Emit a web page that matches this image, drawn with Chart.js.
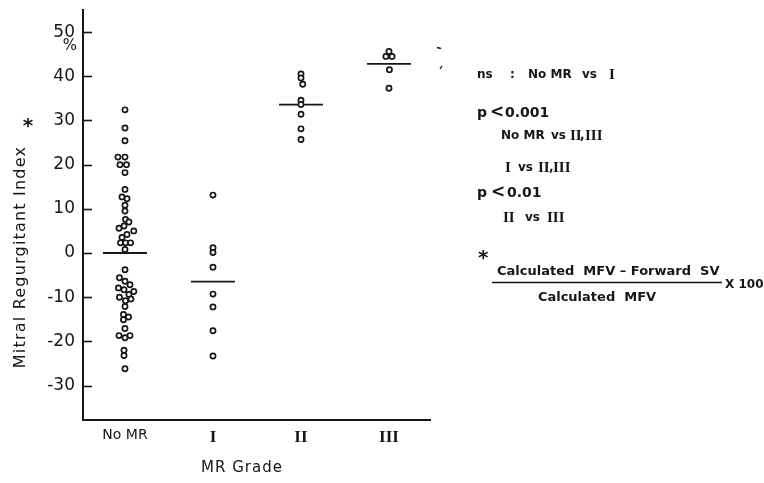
<!DOCTYPE html>
<html><head><meta charset="utf-8">
<script src="https://cdn.jsdelivr.net/npm/chart.js@4.4.0/dist/chart.umd.min.js"></script>
<style>html,body{margin:0;padding:0;background:#fff;}</style>
</head><body>
<canvas id="c" width="764" height="483" style="width:764px;height:483px;display:block"></canvas>
<script>
// ---------------- data ----------------
const categories = ["No MR", "I", "II", "III"];
const yTickValues = [-30, -20, -10, 0, 10, 20, 30, 40, 50];
const noMrValues = [32.4, 28.3, 25.4, 21.7, 21.7, 20.0, 20.0, 18.2, 14.4, 12.7, 12.3, 10.8, 9.5, 7.6, 7.0, 6.1, 5.6, 5.0, 4.2, 3.5, 2.3, 2.3, 2.3, 0.8,
  -3.8, -5.6, -6.4, -7.2, -7.9, -8.3, -8.7, -9.4, -10.0, -10.4, -10.8, -12.1, -13.9, -14.5, -15.1, -17.1, -18.7, -19.2, -18.7, -22.0, -23.2, -26.2];
// horizontal spread of each dot within its column (fraction of column spacing)
const noMrSpread = [0, 0, 0, -0.08, 0, -0.057, 0.017, 0, 0, -0.034, 0.023, 0, 0, 0.006, 0.045, -0.011, -0.068, 0.1, 0.023, -0.034, -0.051, 0.006, 0.063, 0,
  0, -0.063, 0, 0.057, -0.074, -0.011, 0.1, 0.045, -0.063, 0.068, 0.006, 0, -0.017, 0.04, -0.017, 0, -0.068, 0, 0.057, -0.011, -0.011, 0];
const grade1Values = [13.1, 1.2, 0.1, -3.2, -9.3, -12.2, -17.6, -23.3];
const grade1Spread = [0, 0, 0, 0, 0, 0, 0, 0];
const grade2Values = [40.5, 39.6, 38.2, 34.6, 33.6, 31.4, 28.1, 25.7];
const grade2Spread = [0, 0, 0.02, 0, 0, 0, 0, 0];
const grade3Values = [45.6, 44.5, 44.5, 41.5, 37.3];
const grade3Spread = [0, -0.035, 0.035, 0.005, 0];
const groupMeans = [0, -6.5, 33.6, 42.8];

// ---------------- build ----------------
const groups = [[noMrValues, noMrSpread], [grade1Values, grade1Spread], [grade2Values, grade2Spread], [grade3Values, grade3Spread]];
const pts = [];
groups.forEach(([vals, spr], gi) => vals.forEach((v, i) => pts.push({x: gi + spr[i], y: v})));

const INK = '#161616';
const datasets = [{
  type: 'scatter', data: pts, pointRadius: 2.6, pointHoverRadius: 2.6, pointBorderWidth: 1.7,
  pointBackgroundColor: '#fff', pointBorderColor: INK, order: 1
}];
groupMeans.forEach((m, gi) => datasets.push({
  type: 'line', data: [{x: gi - 0.25, y: m}, {x: gi + 0.25, y: m}], borderColor: INK, borderWidth: 1.8,
  pointRadius: 0, fill: false, order: 2
}));

const SANS = '"DejaVu Sans", sans-serif';
const SERIF = '"Liberation Serif", serif';

function seg(ctx, y, parts) {
  parts.forEach(([x, t, f]) => { ctx.font = f; ctx.fillText(t, x, y); });
}

const annot = {
  id: 'annot',
  afterDraw(chart) {
    const {ctx, scales: {y}, chartArea: a} = chart;
    ctx.save();
    ctx.strokeStyle = INK; ctx.lineWidth = 1.6;
    y.ticks.forEach(t => {
      const py = Math.round(y.getPixelForValue(t.value)) + 0.5;
      ctx.beginPath(); ctx.moveTo(a.left, py); ctx.lineTo(a.left + 9, py); ctx.stroke();
    });
    // small specks at the plot's upper right
    ctx.lineWidth = 1.3;
    ctx.beginPath(); ctx.moveTo(437, 47.5); ctx.lineTo(441, 48.5); ctx.stroke();
    ctx.beginPath(); ctx.moveTo(440, 69); ctx.lineTo(442, 66); ctx.stroke();

    ctx.fillStyle = INK; ctx.textBaseline = 'middle'; ctx.textAlign = 'center';
    ctx.font = '15px ' + SANS; ctx.fillText('%', 70, 46);
    // y title
    ctx.save(); ctx.translate(21, 257); ctx.rotate(-Math.PI / 2);
    ctx.letterSpacing = '1.2px';
    ctx.font = '16px ' + SANS; ctx.fillText('Mitral Regurgitant Index', 0, 0);
    ctx.restore();
    ctx.font = 'bold 20px ' + SANS; ctx.fillText('*', 28, 127);
    ctx.save(); ctx.letterSpacing = '1px';
    ctx.font = '15px ' + SANS; ctx.fillText('MR Grade', 242, 468);
    ctx.restore();
    ctx.textAlign = 'left';
    const S = 'bold 12px ' + SANS, P = 'bold 14px ' + SANS, R = 'bold 15px ' + SERIF;
    seg(ctx, 75, [[477, 'ns', S], [510, ':', S], [528, 'No MR', S], [582, 'vs', S], [609, 'I', R]]);
    seg(ctx, 113, [[477, 'p', P], [490, '<', 'bold 17px ' + SANS], [505, '0.001', P]]);
    seg(ctx, 136, [[501, 'No MR', S], [551, 'vs', S], [570, 'II', R], [580, ',', S], [585, 'III', R]]);
    seg(ctx, 168, [[505, 'I', R], [518, 'vs', S], [538, 'II', R], [549, ',', S], [553, 'III', R]]);
    seg(ctx, 193, [[477, 'p', P], [491, '<', 'bold 17px ' + SANS], [507, '0.01', P]]);
    seg(ctx, 218, [[503, 'II', R], [525, 'vs', S], [547, 'III', R]]);
    ctx.font = 'bold 20px ' + SANS; ctx.fillText('*', 478, 259);
    ctx.font = 'bold 13px ' + SANS;
    ctx.fillText('Calculated  MFV – Forward  SV', 497, 272);
    ctx.textAlign = 'center'; ctx.fillText('Calculated  MFV', 597, 298);
    ctx.textAlign = 'left'; ctx.font = 'bold 12px ' + SANS; ctx.fillText('X 100', 725, 285);
    ctx.lineWidth = 1.5; ctx.beginPath(); ctx.moveTo(492, 282.5); ctx.lineTo(722, 282.5); ctx.stroke();
    ctx.restore();
  }
};

new Chart(document.getElementById('c'), {
  data: {datasets},
  options: {
    responsive: false, animation: false, devicePixelRatio: 1,
    layout: {padding: {top: 10, right: 334, left: 0, bottom: 0}},
    plugins: {legend: {display: false}, tooltip: {enabled: false}},
    scales: {
      x: {
        type: 'linear', min: -0.477, max: 3.466,
        afterBuildTicks: s => { s.ticks = categories.map((c, i) => ({value: i})); },
        afterFit: s => { s.height = 63; s.paddingLeft = 0; s.paddingRight = 0; },
        grid: {display: false, drawTicks: false},
        border: {display: true, color: INK, width: 2},
        ticks: {
          padding: 7, color: INK, autoSkip: false, maxRotation: 0,
          callback: v => categories[v] ?? '',
          font: c => c.index === 0 ? {family: SANS, size: 14} : {family: SERIF, size: 17, weight: 'bold'}
        }
      },
      y: {
        type: 'linear', min: -37.8, max: 55,
        afterBuildTicks: s => { s.ticks = yTickValues.map(v => ({value: v})); },
        afterFit: s => { s.width = 83; s.paddingTop = 0; s.paddingBottom = 0; },
        grid: {display: false, drawTicks: false},
        border: {display: true, color: INK, width: 2},
        ticks: {padding: 8, color: INK, font: {family: SANS, size: 17}, callback: v => String(v)}
      }
    }
  },
  plugins: [annot]
});
</script>
</body></html>
